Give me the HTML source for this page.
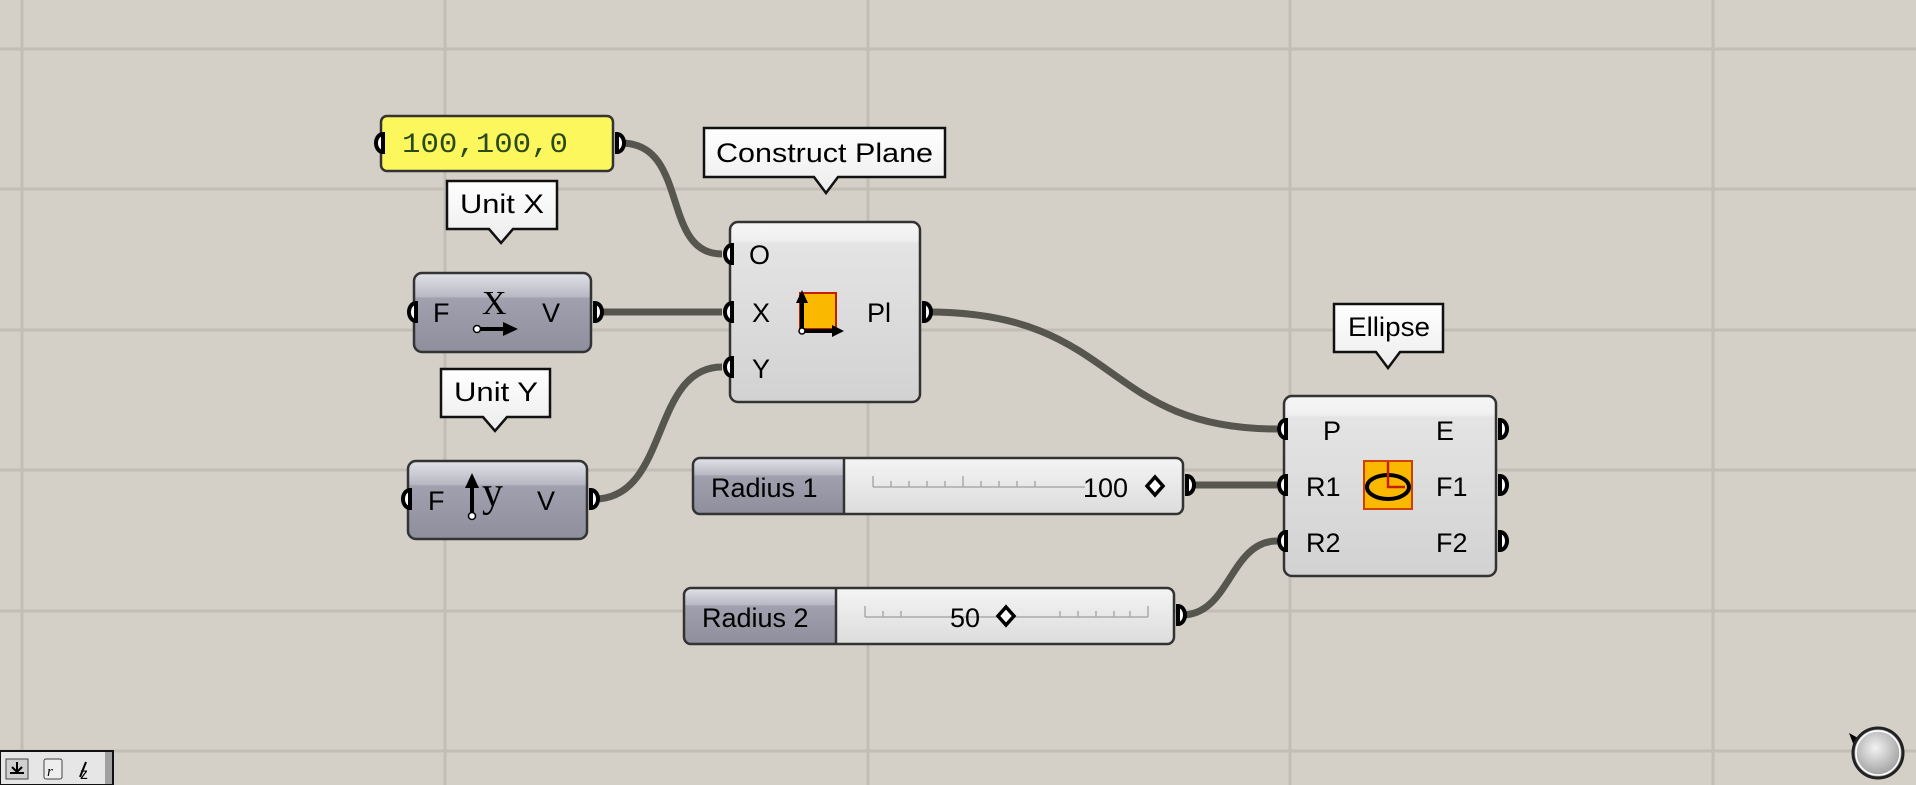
<!DOCTYPE html>
<html><head><meta charset="utf-8"><style>
html,body{margin:0;padding:0;background:#d4d0c8;}
svg{display:block;}
text{font-family:"Liberation Sans",sans-serif;}
</style></head><body>
<svg width="1916" height="785" viewBox="0 0 1916 785" xmlns="http://www.w3.org/2000/svg">
<defs>
<linearGradient id="gw" x1="0" y1="0" x2="0" y2="1">
<stop offset="0" stop-color="#f6f6f6"/><stop offset="0.1" stop-color="#f0f0f0"/><stop offset="0.12" stop-color="#e4e4e4"/><stop offset="1" stop-color="#d2d2d2"/></linearGradient>
<linearGradient id="gd" x1="0" y1="0" x2="0" y2="1">
<stop offset="0" stop-color="#e2e2e8"/><stop offset="0.3" stop-color="#b8b8c4"/><stop offset="0.32" stop-color="#a0a0ae"/><stop offset="1" stop-color="#8e8e9c"/></linearGradient>
<linearGradient id="gs" x1="0" y1="0" x2="0" y2="1">
<stop offset="0" stop-color="#f4f4f4"/><stop offset="1" stop-color="#dcdcdc"/></linearGradient>
<linearGradient id="gt" x1="0" y1="0" x2="0" y2="1">
<stop offset="0" stop-color="#ffffff"/><stop offset="1" stop-color="#ececec"/></linearGradient>
<radialGradient id="gc" cx="0.45" cy="0.4" r="0.6">
<stop offset="0" stop-color="#f2f2f2"/><stop offset="1" stop-color="#9a9a9a"/></radialGradient>
</defs>
<!-- grid -->
<g stroke="#c2beb6" stroke-width="3">
<line x1="22" y1="0" x2="22" y2="785"/>
<line x1="445" y1="0" x2="445" y2="785"/>
<line x1="868" y1="0" x2="868" y2="785"/>
<line x1="1290" y1="0" x2="1290" y2="785"/>
<line x1="1713" y1="0" x2="1713" y2="785"/>
<line x1="0" y1="49" x2="1916" y2="49"/>
<line x1="0" y1="189" x2="1916" y2="189"/>
<line x1="0" y1="330" x2="1916" y2="330"/>
<line x1="0" y1="470" x2="1916" y2="470"/>
<line x1="0" y1="611" x2="1916" y2="611"/>
<line x1="0" y1="751" x2="1916" y2="751"/>
</g>
<!-- wires -->
<g stroke="#56564f" stroke-width="7" fill="none">
<path d="M621,143 C690,143 660,254 722,254"/>
<path d="M599,312 L722,312"/>
<path d="M594,499 C670,499 650,367 722,367"/>
<path d="M928,312 C1120,312 1100,429 1277,429"/>
<path d="M1189,485 L1277,485"/>
<path d="M1182,615 C1230,615 1230,541 1277,541"/>
</g>
<!-- yellow panel -->
<rect x="381" y="116" width="232" height="55" rx="6" fill="#fdf75e" stroke="#333" stroke-width="2.5"/>
<text x="402" y="152" font-size="28" fill="#2a4a1a" textLength="166" lengthAdjust="spacingAndGlyphs" style="font-family:'Liberation Mono',monospace">100,100,0</text>
<!-- tooltips -->
<g fill="url(#gt)" stroke="#111" stroke-width="2.5">
<path d="M704,128 H945 V177 H838 L826,193 L814,177 H704 Z"/>
<path d="M447,181 H557 V229 H513 L501,243 L489,229 H447 Z"/>
<path d="M441,369 H550 V417 H507 L495,431 L483,417 H441 Z"/>
<path d="M1334,304 H1443 V352 H1400 L1388,368 L1376,352 H1334 Z"/>
</g>
<g font-size="27" fill="#000">
<text x="716" y="162" textLength="217" lengthAdjust="spacingAndGlyphs">Construct Plane</text>
<text x="460" y="213" textLength="84" lengthAdjust="spacingAndGlyphs">Unit X</text>
<text x="454" y="401" textLength="84" lengthAdjust="spacingAndGlyphs">Unit Y</text>
<text x="1348" y="336" textLength="82" lengthAdjust="spacingAndGlyphs">Ellipse</text>
</g>
<!-- Unit X -->
<rect x="414" y="273" width="177" height="79" rx="8" fill="url(#gd)" stroke="#333" stroke-width="2.5"/>
<text x="433" y="322" font-size="27">F</text>
<text x="542" y="322" font-size="27">V</text>
<text x="482" y="314" font-size="34" style="font-family:'Liberation Serif',serif">X</text>
<line x1="477" y1="329" x2="508" y2="329" stroke="#000" stroke-width="4"/>
<path d="M503,322 L518,329 L503,336 Z"/>
<circle cx="477" cy="329" r="3.5" fill="#fff" stroke="#000" stroke-width="1.5"/>
<!-- Unit Y -->
<rect x="408" y="461" width="179" height="78" rx="8" fill="url(#gd)" stroke="#333" stroke-width="2.5"/>
<text x="428" y="510" font-size="27">F</text>
<text x="537" y="510" font-size="27">V</text>
<line x1="472" y1="516" x2="472" y2="483" stroke="#000" stroke-width="4"/>
<path d="M465,488 L472,473 L479,488 Z"/>
<circle cx="472" cy="516" r="3.5" fill="#fff" stroke="#000" stroke-width="1.5"/>
<text x="482" y="506" font-size="42" style="font-family:'Liberation Serif',serif">y</text>
<!-- Construct Plane -->
<rect x="730" y="222" width="190" height="180" rx="8" fill="url(#gw)" stroke="#333" stroke-width="2.5"/>
<text x="749" y="264" font-size="27">O</text>
<text x="752" y="322" font-size="27">X</text>
<text x="752" y="378" font-size="27">Y</text>
<text x="867" y="322" font-size="27">Pl</text>
<rect x="800" y="293" width="36" height="36" fill="#fbb800" stroke="#c02000" stroke-width="2"/>
<line x1="802" y1="331" x2="802" y2="300" stroke="#000" stroke-width="4"/>
<path d="M796,303 L802,290 L808,303 Z"/>
<line x1="802" y1="331" x2="835" y2="331" stroke="#000" stroke-width="4"/>
<path d="M832,325 L844,331 L832,337 Z"/>
<circle cx="802" cy="331" r="3" fill="#fff" stroke="#000" stroke-width="1.5"/>
<!-- Ellipse -->
<rect x="1284" y="396" width="212" height="180" rx="8" fill="url(#gw)" stroke="#333" stroke-width="2.5"/>
<text x="1323" y="440" font-size="27">P</text>
<text x="1436" y="440" font-size="27">E</text>
<text x="1306" y="496" font-size="27">R1</text>
<text x="1436" y="496" font-size="27">F1</text>
<text x="1306" y="552" font-size="27">R2</text>
<text x="1436" y="552" font-size="27">F2</text>
<rect x="1364" y="461" width="48" height="48" fill="#fbb800" stroke="#d04000" stroke-width="2"/>
<ellipse cx="1388" cy="487" rx="21" ry="12" fill="none" stroke="#000" stroke-width="4"/>
<path d="M1388,462 V487 H1405" fill="none" stroke="#c02000" stroke-width="2.5"/>
<!-- sliders -->
<rect x="693" y="458" width="490" height="56" rx="7" fill="url(#gs)"/>
<path d="M700,458 H844 V514 H700 a7,7 0 0 1 -7,-7 V465 a7,7 0 0 1 7,-7 Z" fill="url(#gd)"/>
<line x1="844" y1="458" x2="844" y2="514" stroke="#333" stroke-width="2.5"/>
<rect x="693" y="458" width="490" height="56" rx="7" fill="none" stroke="#333" stroke-width="2.5"/>
<text x="711" y="497" font-size="27">Radius 1</text>
<g stroke="#aaa" stroke-width="1.5"><line x1="873" y1="487" x2="1085" y2="487"/>
<line x1="873" y1="476" x2="873" y2="487"/><line x1="891" y1="481" x2="891" y2="487"/><line x1="909" y1="481" x2="909" y2="487"/><line x1="927" y1="481" x2="927" y2="487"/><line x1="945" y1="481" x2="945" y2="487"/><line x1="963" y1="476" x2="963" y2="487"/><line x1="981" y1="481" x2="981" y2="487"/><line x1="999" y1="481" x2="999" y2="487"/><line x1="1017" y1="481" x2="1017" y2="487"/><line x1="1035" y1="481" x2="1035" y2="487"/></g>
<text x="1083" y="497" font-size="27">100</text>
<path d="M1155,477 L1163,486 L1155,495 L1147,486 Z" fill="#fff" stroke="#000" stroke-width="3.5"/>

<path d="M691,588 H836 V644 H691 a7,7 0 0 1 -7,-7 V595 a7,7 0 0 1 7,-7 Z" fill="url(#gd)"/>
<path d="M836,588 H1167 a7,7 0 0 1 7,7 V637 a7,7 0 0 1 -7,7 H836 Z" fill="url(#gs)"/>
<line x1="836" y1="588" x2="836" y2="644" stroke="#333" stroke-width="2.5"/>
<rect x="684" y="588" width="490" height="56" rx="7" fill="none" stroke="#333" stroke-width="2.5"/>
<text x="702" y="627" font-size="27">Radius 2</text>
<g stroke="#aaa" stroke-width="1.5"><line x1="865" y1="617" x2="1148" y2="617"/>
<line x1="865" y1="606" x2="865" y2="617"/><line x1="883" y1="611" x2="883" y2="617"/><line x1="901" y1="611" x2="901" y2="617"/><line x1="1060" y1="611" x2="1060" y2="617"/><line x1="1078" y1="611" x2="1078" y2="617"/><line x1="1096" y1="611" x2="1096" y2="617"/><line x1="1114" y1="611" x2="1114" y2="617"/><line x1="1130" y1="611" x2="1130" y2="617"/><line x1="1148" y1="606" x2="1148" y2="617"/></g>
<text x="950" y="627" font-size="27">50</text>
<path d="M1006,607 L1014,616 L1006,625 L998,616 Z" fill="#fff" stroke="#000" stroke-width="3.5"/>
<!-- grips (on top) -->
<g fill="#fff" stroke="#000" stroke-width="4">
<path d="M383,134 a7,9 0 0 0 0,18 Z"/>
<path d="M617,134 a7,9 0 0 1 0,18 Z"/>
<path d="M416,303 a7,9 0 0 0 0,18 Z"/>
<path d="M595,303 a7,9 0 0 1 0,18 Z"/>
<path d="M410,490 a7,9 0 0 0 0,18 Z"/>
<path d="M591,490 a7,9 0 0 1 0,18 Z"/>
<path d="M732,245 a7,9 0 0 0 0,18 Z"/>
<path d="M732,303 a7,9 0 0 0 0,18 Z"/>
<path d="M732,358 a7,9 0 0 0 0,18 Z"/>
<path d="M924,303 a7,9 0 0 1 0,18 Z"/>
<path d="M1286,420 a7,9 0 0 0 0,18 Z"/>
<path d="M1286,476 a7,9 0 0 0 0,18 Z"/>
<path d="M1286,532 a7,9 0 0 0 0,18 Z"/>
<path d="M1500,420 a7,9 0 0 1 0,18 Z"/>
<path d="M1500,476 a7,9 0 0 1 0,18 Z"/>
<path d="M1500,532 a7,9 0 0 1 0,18 Z"/>
<path d="M1187,476 a7,9 0 0 1 0,18 Z"/>
<path d="M1178,606 a7,9 0 0 1 0,18 Z"/>
</g>
<!-- toolbar -->
<rect x="0" y="751" width="113" height="34" fill="#e6e6e6" stroke="#111" stroke-width="2"/>
<rect x="105" y="752" width="7" height="32" fill="#a0a0a0"/>
<rect x="6" y="759" width="22" height="20" fill="#d0d0d0" stroke="#444"/>
<path d="M17,762 V771 M12,767 L17,772 L22,767 M10,773 H24" stroke="#000" stroke-width="2" fill="none"/>
<rect x="44" y="759" width="18" height="20" rx="2" fill="#eee" stroke="#444"/>
<text x="47" y="776" font-size="15" font-style="italic" style="font-family:'Liberation Serif',serif">r</text>
<text x="80" y="779" font-size="16">z</text>
<line x1="80" y1="777" x2="86" y2="762" stroke="#000" stroke-width="2"/>
<!-- compass -->
<path d="M1849,733 L1858,738 L1854,746 Z" fill="#000"/>
<circle cx="1878" cy="753" r="25" fill="url(#gc)" stroke="#222" stroke-width="3"/>
<circle cx="1878" cy="753" r="22" fill="none" stroke="#fff" stroke-width="1.5"/>
</svg>
</body></html>
